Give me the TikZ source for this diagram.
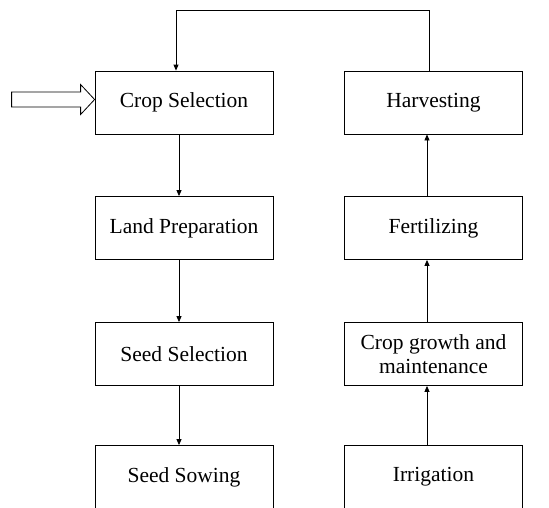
\documentclass[tikz,border=0pt]{standalone}
\usepackage{fontspec}
\setmainfont{Liberation Serif}
\usetikzlibrary{arrows.meta,calc}
\begin{document}
\begin{tikzpicture}[x=1pt,y=-1pt,
  stage/.style={draw=black,line width=0.8pt,minimum width=178pt,minimum height=63pt,inner sep=2pt,align=center,font=\fontsize{21.5}{24}\selectfont},
  flow/.style={draw=black,line width=0.8pt,-{Triangle[length=6pt,width=5pt]}}]
\useasboundingbox (0,0) rectangle (549,507);
\node[stage] (cs) at (184,102.5) {Crop Selection};
\node[stage] (lp) at (184,228) {Land Preparation};
\node[stage] (ss) at (184,354) {Seed Selection};
\node[stage] (so) at (184,477) {Seed Sowing};
\node[stage] (hv) at (433.5,102.5) {Harvesting};
\node[stage] (fe) at (433.5,228) {Fertilizing};
\node[stage] (cg) at (433.5,354) {Crop growth and\\maintenance};
\node[stage] (ir) at (433.5,477) {Irrigation};
\draw[flow] ([xshift=-5pt]cs.south) -- ([xshift=-5pt]lp.north);
\draw[flow] ([xshift=-5pt]lp.south) -- ([xshift=-5pt]ss.north);
\draw[flow] ([xshift=-5pt]ss.south) -- ([xshift=-5pt]so.north);
\draw[flow] ([xshift=-6.5pt]ir.north) -- ([xshift=-6.5pt]cg.south);
\draw[flow] ([xshift=-6.5pt]cg.north) -- ([xshift=-6.5pt]fe.south);
\draw[flow] ([xshift=-6.5pt]fe.north) -- ([xshift=-6.5pt]hv.south);
\coordinate (tr) at (429,10);
\coordinate (tl) at (176,10);
\draw[flow] ([xshift=-4.5pt]hv.north) -- (tr) -- (tl) -- ([xshift=-8pt]cs.north);
\coordinate (tip) at ([yshift=3pt]cs.west);
\draw[line width=0.8pt,fill=white] (tip) -- ($(tip)+(-14,-15)$) -- ($(tip)+(-14,-7.5)$) -- ($(tip)+(-83,-7.5)$) -- ($(tip)+(-83,7.5)$) -- ($(tip)+(-14,7.5)$) -- ($(tip)+(-14,15)$) -- cycle;
\end{tikzpicture}
\end{document}
